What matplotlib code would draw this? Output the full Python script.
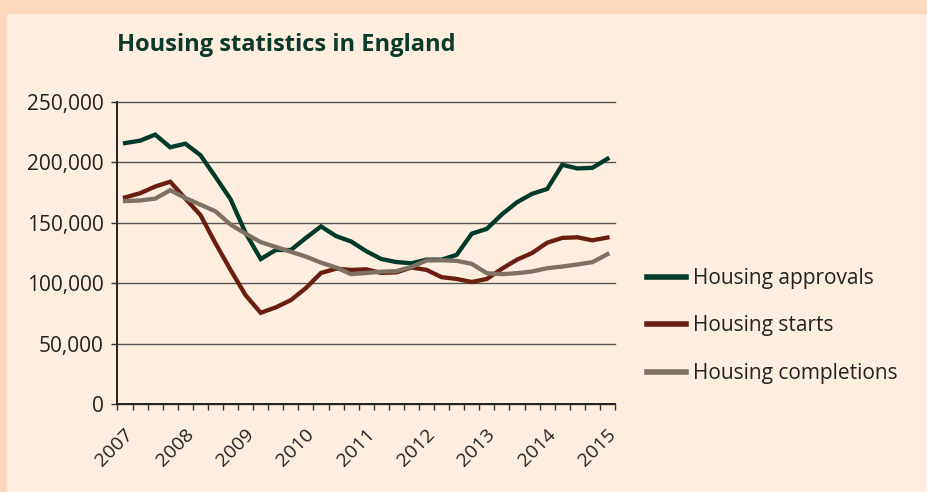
import matplotlib
matplotlib.use("Agg")
import matplotlib.pyplot as plt
import matplotlib.transforms as mtransforms
from matplotlib.patches import Rectangle

plt.rcParams['font.family'] = ['Open Sans', 'DejaVu Sans']

# quarterly values, 2007 Q1 .. 2015 Q1 (33 quarters)
approvals = [216000, 218000, 223000, 212500, 215500, 206000, 188000, 169500,
             141500, 120000, 127500, 127500, 137500, 147000, 139000, 134500,
             126500, 120000, 117500, 116500, 119500, 119500, 123500, 141000,
             145000, 157000, 167000, 174000, 178000, 198000, 195000, 195500,
             203000]
starts = [171000, 174500, 180000, 184000, 170000, 156500, 133000, 111000,
          90000, 75500, 80000, 86000, 96000, 108500, 112000, 111000,
          111500, 108500, 109000, 113000, 111000, 105000, 103500, 101000,
          103500, 112000, 119500, 125000, 133500, 137500, 138000, 135500,
          137800]
completions = [168000, 168500, 170000, 177000, 170500, 165000, 159500, 148500,
               141000, 134000, 130000, 126000, 122000, 117000, 113000, 107500,
               108500, 109500, 110000, 113500, 118800, 119000, 118500, 116000,
               108300, 107500, 108300, 109700, 112400, 113800, 115500, 117400,
               124000]
years = ['2007', '2008', '2009', '2010', '2011', '2012', '2013', '2014', '2015']
series_names = ['Housing approvals', 'Housing starts', 'Housing completions']
series_colors = ['#003a2b', '#6a1e0e', '#7e7164']

panel = '#fdeee0'
fig = plt.figure(figsize=(9.28, 4.92), dpi=100, facecolor=panel)

# peach border strips (left and top)
fig.patches.append(Rectangle((0, 0), 6 / 928, 1, transform=fig.transFigure,
                             color='#fcd9bd', zorder=0))
fig.patches.append(Rectangle((0, 1 - 13 / 492), 1, 13 / 492,
                             transform=fig.transFigure, color='#fcd9bd', zorder=0))

ax = fig.add_axes([117.5 / 928, 88 / 492, (615 - 117.5) / 928, (404 - 102) / 492])
ax.set_facecolor(panel)

n = len(approvals)
xs = [i + 0.5 for i in range(n)]
for vals, name, col in zip([approvals, starts, completions], series_names, series_colors):
    ax.plot(xs, vals, color=col, lw=3.1, label=name, solid_joinstyle='miter', zorder=3)

ax.set_xlim(0, n)
ax.set_ylim(0, 250000)

ax.set_yticks(range(0, 250001, 50000))
ax.set_yticklabels([f'{v:,}' for v in range(0, 250001, 50000)])
ax.yaxis.grid(True, color='#555555', lw=1.0)
for gl in ax.get_ygridlines():
    gl.set_clip_on(False)
ax.set_axisbelow(True)

ax.tick_params(axis='x', length=4, width=1, color='#333333', pad=0,
               labelsize=14, labelcolor='#222222')
ax.tick_params(axis='y', length=4.3, width=1, color='#333333', pad=5.5,
               labelsize=15, labelcolor='#222222')

ax.set_xticks(range(0, n + 1))
labels = []
for i in range(n + 1):
    labels.append(years[i // 4] if i % 4 == 0 and i // 4 < len(years) else '')
ax.set_xticklabels(labels, rotation=45, ha='right', va='center', rotation_mode='anchor')
offset = mtransforms.ScaledTranslation(0.13, -0.22, fig.dpi_scale_trans)
for lab in ax.get_xticklabels():
    lab.set_transform(lab.get_transform() + offset)

for s in ['top', 'right']:
    ax.spines[s].set_visible(False)
for s in ['left', 'bottom']:
    ax.spines[s].set_color('#222222')
    ax.spines[s].set_linewidth(1.4)

fig.text(117 / 928, 1 - 45 / 492, 'Housing statistics in England', fontsize=17,
         fontweight='bold', color='#0b3a2c', ha='left', va='center')

ax.legend(loc='center left', bbox_to_anchor=(647 / 928, 1 - 326 / 492),
          bbox_transform=fig.transFigure, frameon=False, fontsize=15,
          handlelength=1.85, handletextpad=0.38, labelspacing=1.28,
          borderpad=0, borderaxespad=0, labelcolor='#222222')
for line in ax.get_legend().get_lines():
    line.set_linewidth(4)

fig.savefig('out.png', dpi=100, facecolor=panel)
